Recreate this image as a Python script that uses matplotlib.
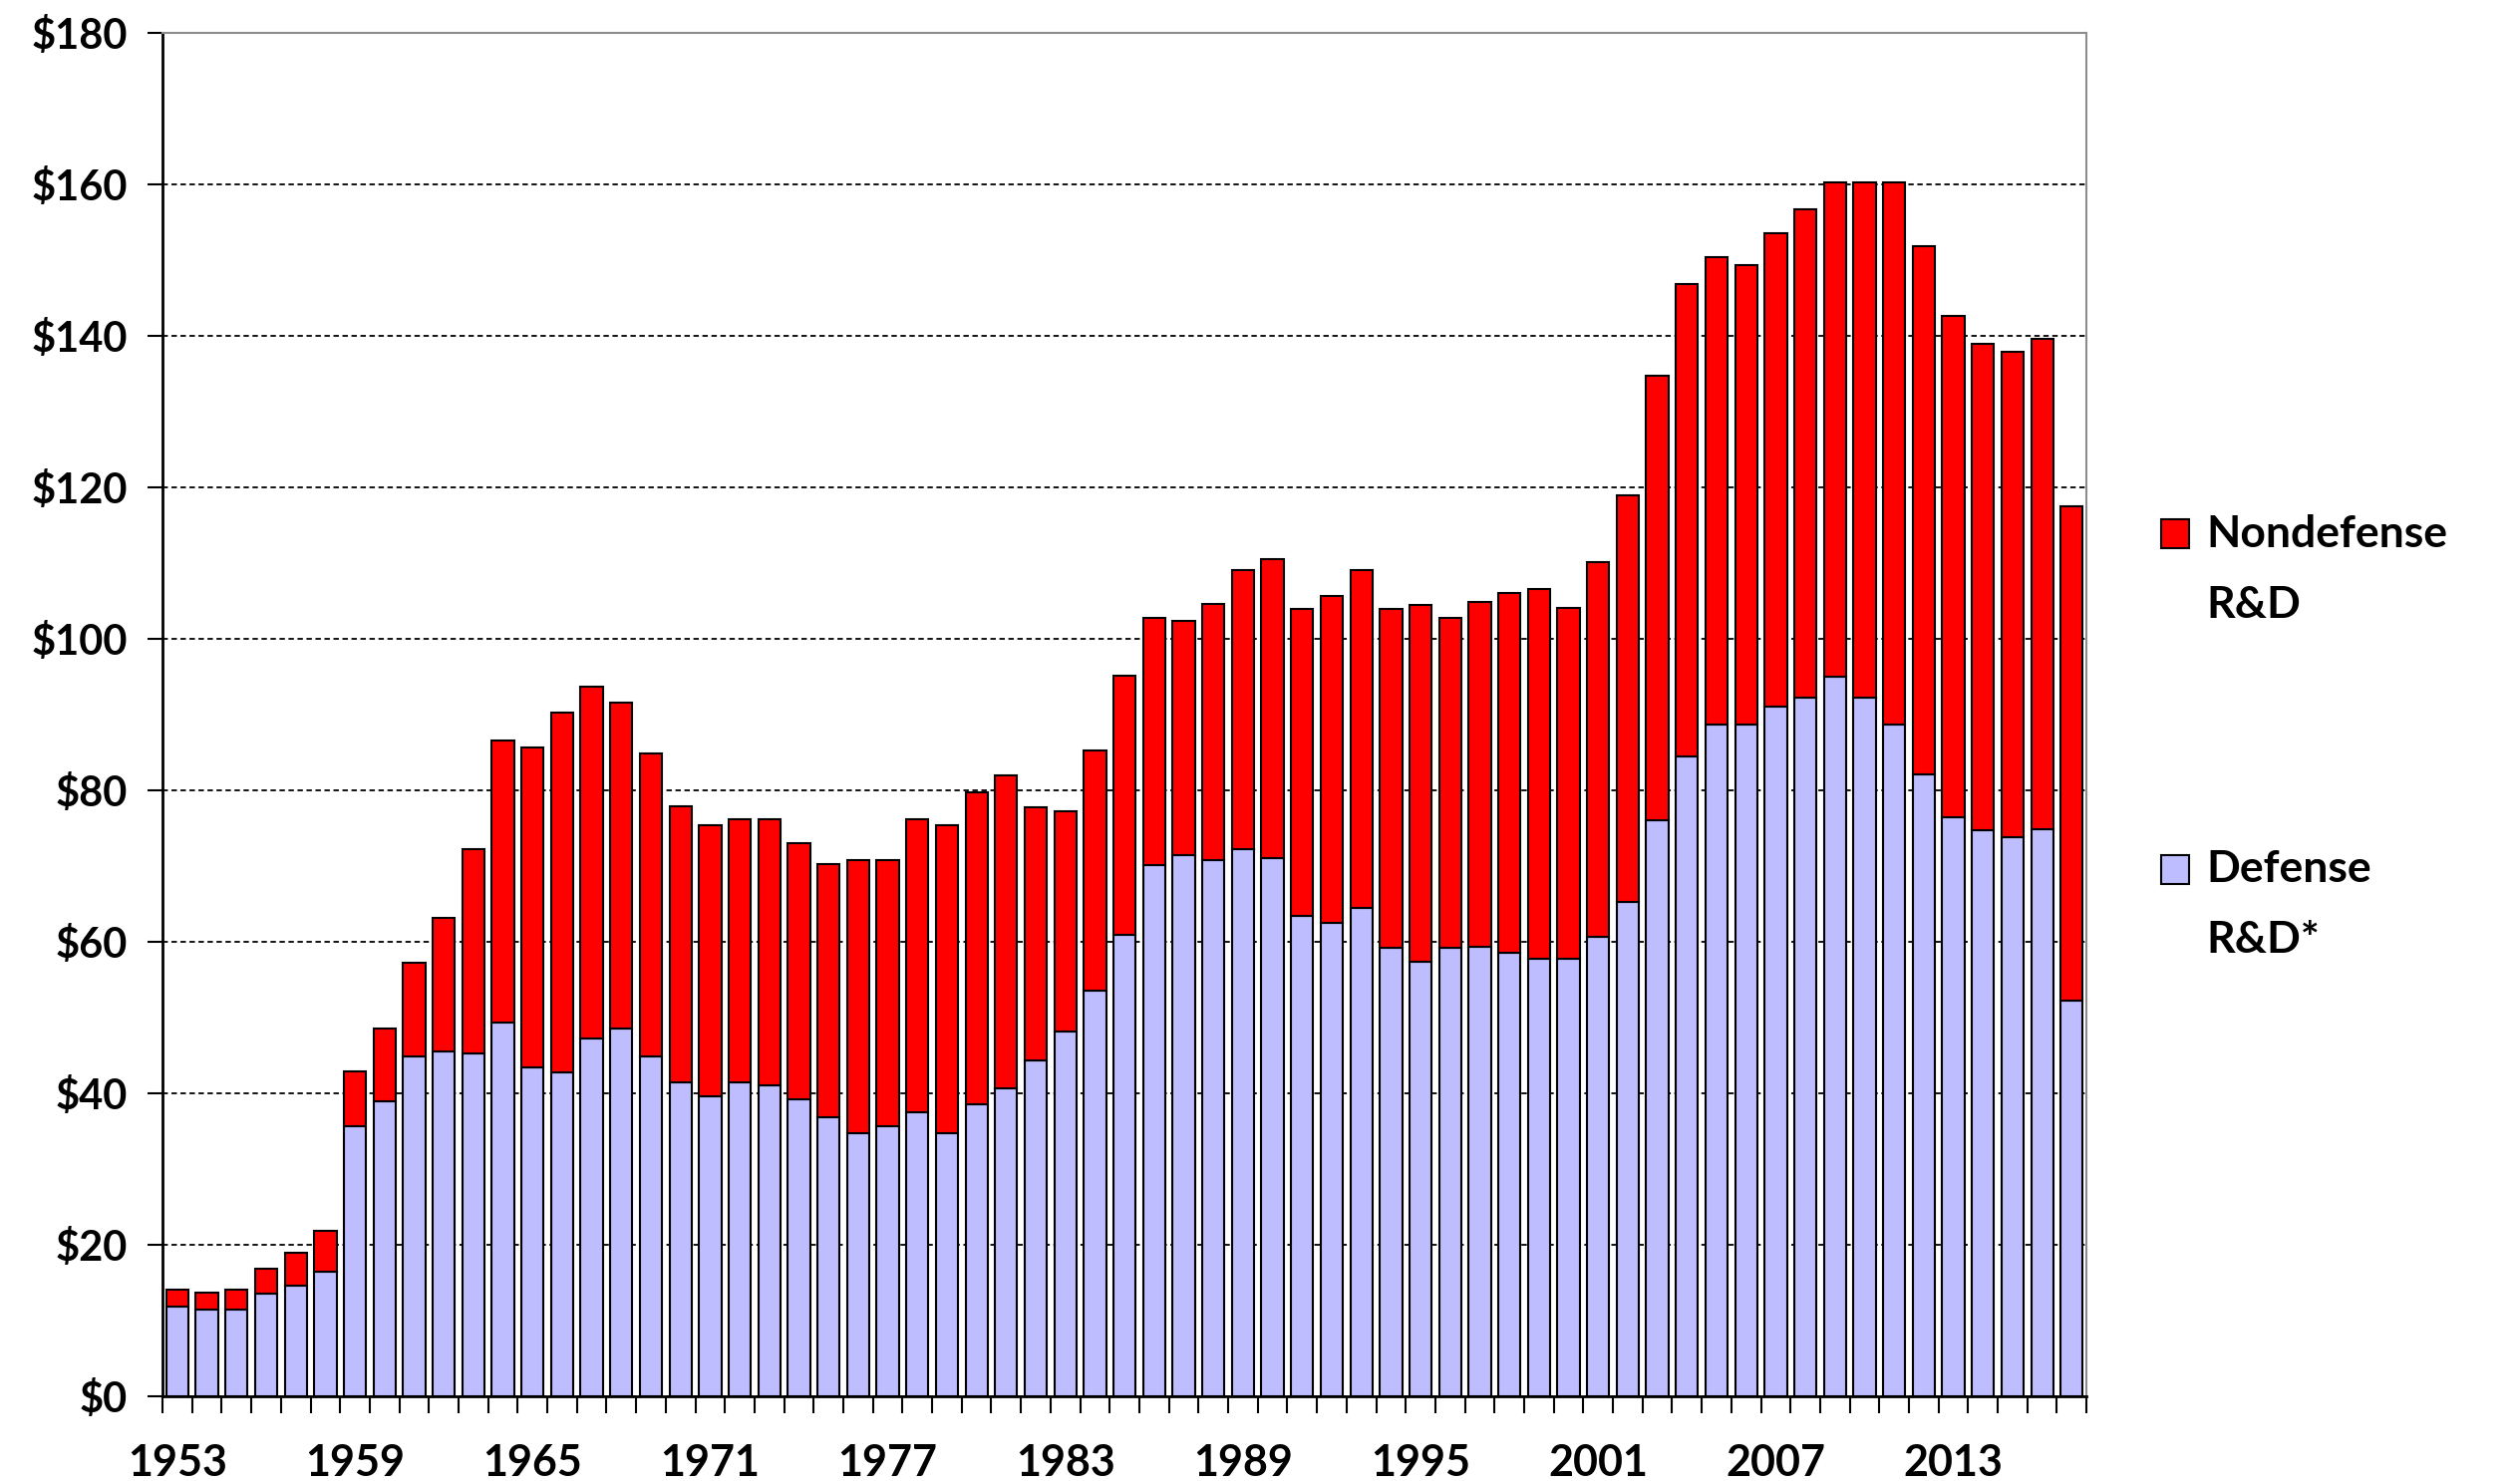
import numpy as np
import matplotlib.pyplot as plt
from matplotlib.patches import Rectangle

plt.rcParams['font.family'] = ['Lato', 'DejaVu Sans']
plt.rcParams['font.weight'] = 'bold'

# Federal R&D, billions of constant dollars
years = list(range(1953, 2018))
defense = [11.8, 11.4, 11.4, 13.6, 14.6, 16.4, 35.7, 38.9, 44.9, 45.5,
           45.2, 49.4, 43.4, 42.7, 47.3, 48.5, 44.9, 41.4, 39.6, 41.4,
           41.0, 39.2, 36.8, 34.7, 35.7, 37.5, 34.7, 38.5, 40.6, 44.4,
           48.1, 53.6, 60.9, 70.1, 71.5, 70.8, 72.2, 71.1, 63.4, 62.5,
           64.5, 59.2, 57.4, 59.2, 59.3, 58.5, 57.7, 57.7, 60.6, 65.2,
           76.1, 84.5, 88.7, 88.7, 91.1, 92.3, 95.0, 92.3, 88.7, 82.1,
           76.4, 74.7, 73.8, 74.9, 52.2]
nondefense = [2.3, 2.3, 2.7, 3.3, 4.3, 5.4, 7.2, 9.6, 12.3, 17.7,
              27.1, 37.2, 42.2, 47.5, 46.4, 43.1, 40.0, 36.5, 35.8, 34.8,
              35.2, 33.8, 33.4, 36.1, 35.1, 38.7, 40.7, 41.3, 41.4, 33.4,
              29.1, 31.6, 34.2, 32.7, 30.9, 33.8, 36.9, 39.4, 40.5, 43.1,
              44.6, 44.7, 47.1, 43.6, 45.6, 47.5, 48.9, 46.4, 49.5, 53.7,
              58.6, 62.4, 61.7, 60.7, 62.4, 64.4, 65.2, 67.9, 71.5, 69.8,
              66.2, 64.2, 64.1, 64.7, 65.3]
yticks = [0, 20, 40, 60, 80, 100, 120, 140, 160, 180]
label_years = list(range(1953, 2018, 6))

red = '#FF0000'
lav = '#BDBDFF'

fig = plt.figure(figsize=(25.28, 14.86), dpi=100)
ax = fig.add_axes([0.0645, 0.0572, 0.7635, 0.9206])

x = np.arange(len(years))
ax.bar(x, defense, width=0.75, color=lav, edgecolor='black', linewidth=1.5, zorder=3)
ax.bar(x, nondefense, width=0.75, bottom=defense, color=red, edgecolor='black',
       linewidth=1.5, zorder=3)

ax.set_xlim(-0.5, len(years) - 0.5)
ax.set_ylim(0, 180)

ax.set_yticks(yticks)
ax.set_yticklabels(['$' + str(v) for v in yticks], fontsize=30, fontweight='bold')
ax.yaxis.grid(True, linestyle=(0, (3, 2)), color='black', linewidth=1.3)
ax.set_axisbelow(True)

idx = [years.index(y) for y in label_years]
ax.set_xticks(idx)
ax.set_xticklabels([str(y) for y in label_years], fontsize=31, fontweight='bold')
ax.set_xticks(np.arange(len(years) + 1) - 0.5, minor=True)
ax.tick_params(axis='x', which='major', length=0, pad=34)
ax.tick_params(axis='x', which='minor', length=12, width=1.5, direction='out')
ax.tick_params(axis='y', length=11, width=1.5, direction='out', pad=14)

for s in ['left', 'bottom']:
    ax.spines[s].set_color('black')
    ax.spines[s].set_linewidth(2)
for s in ['top', 'right']:
    ax.spines[s].set_color('#8c8c8c')
    ax.spines[s].set_linewidth(1.5)

# legend on the right, drawn by hand to get the wide spacing
entries = [('Nondefense\nR&D', red, 0.6299, 0.6155),
           ('Defense\nR&D*', lav, 0.4031, 0.3895)]
for label, col, box_y, text_y in entries:
    fig.patches.append(Rectangle((0.8576, box_y), 0.0111, 0.0195, transform=fig.transFigure,
                                 facecolor=col, edgecolor='black', linewidth=1.5))
    fig.text(0.8755, text_y, label, fontsize=32, fontweight='bold', va='center',
             ha='left', linespacing=1.95)

fig.savefig('out.png', dpi=100)
